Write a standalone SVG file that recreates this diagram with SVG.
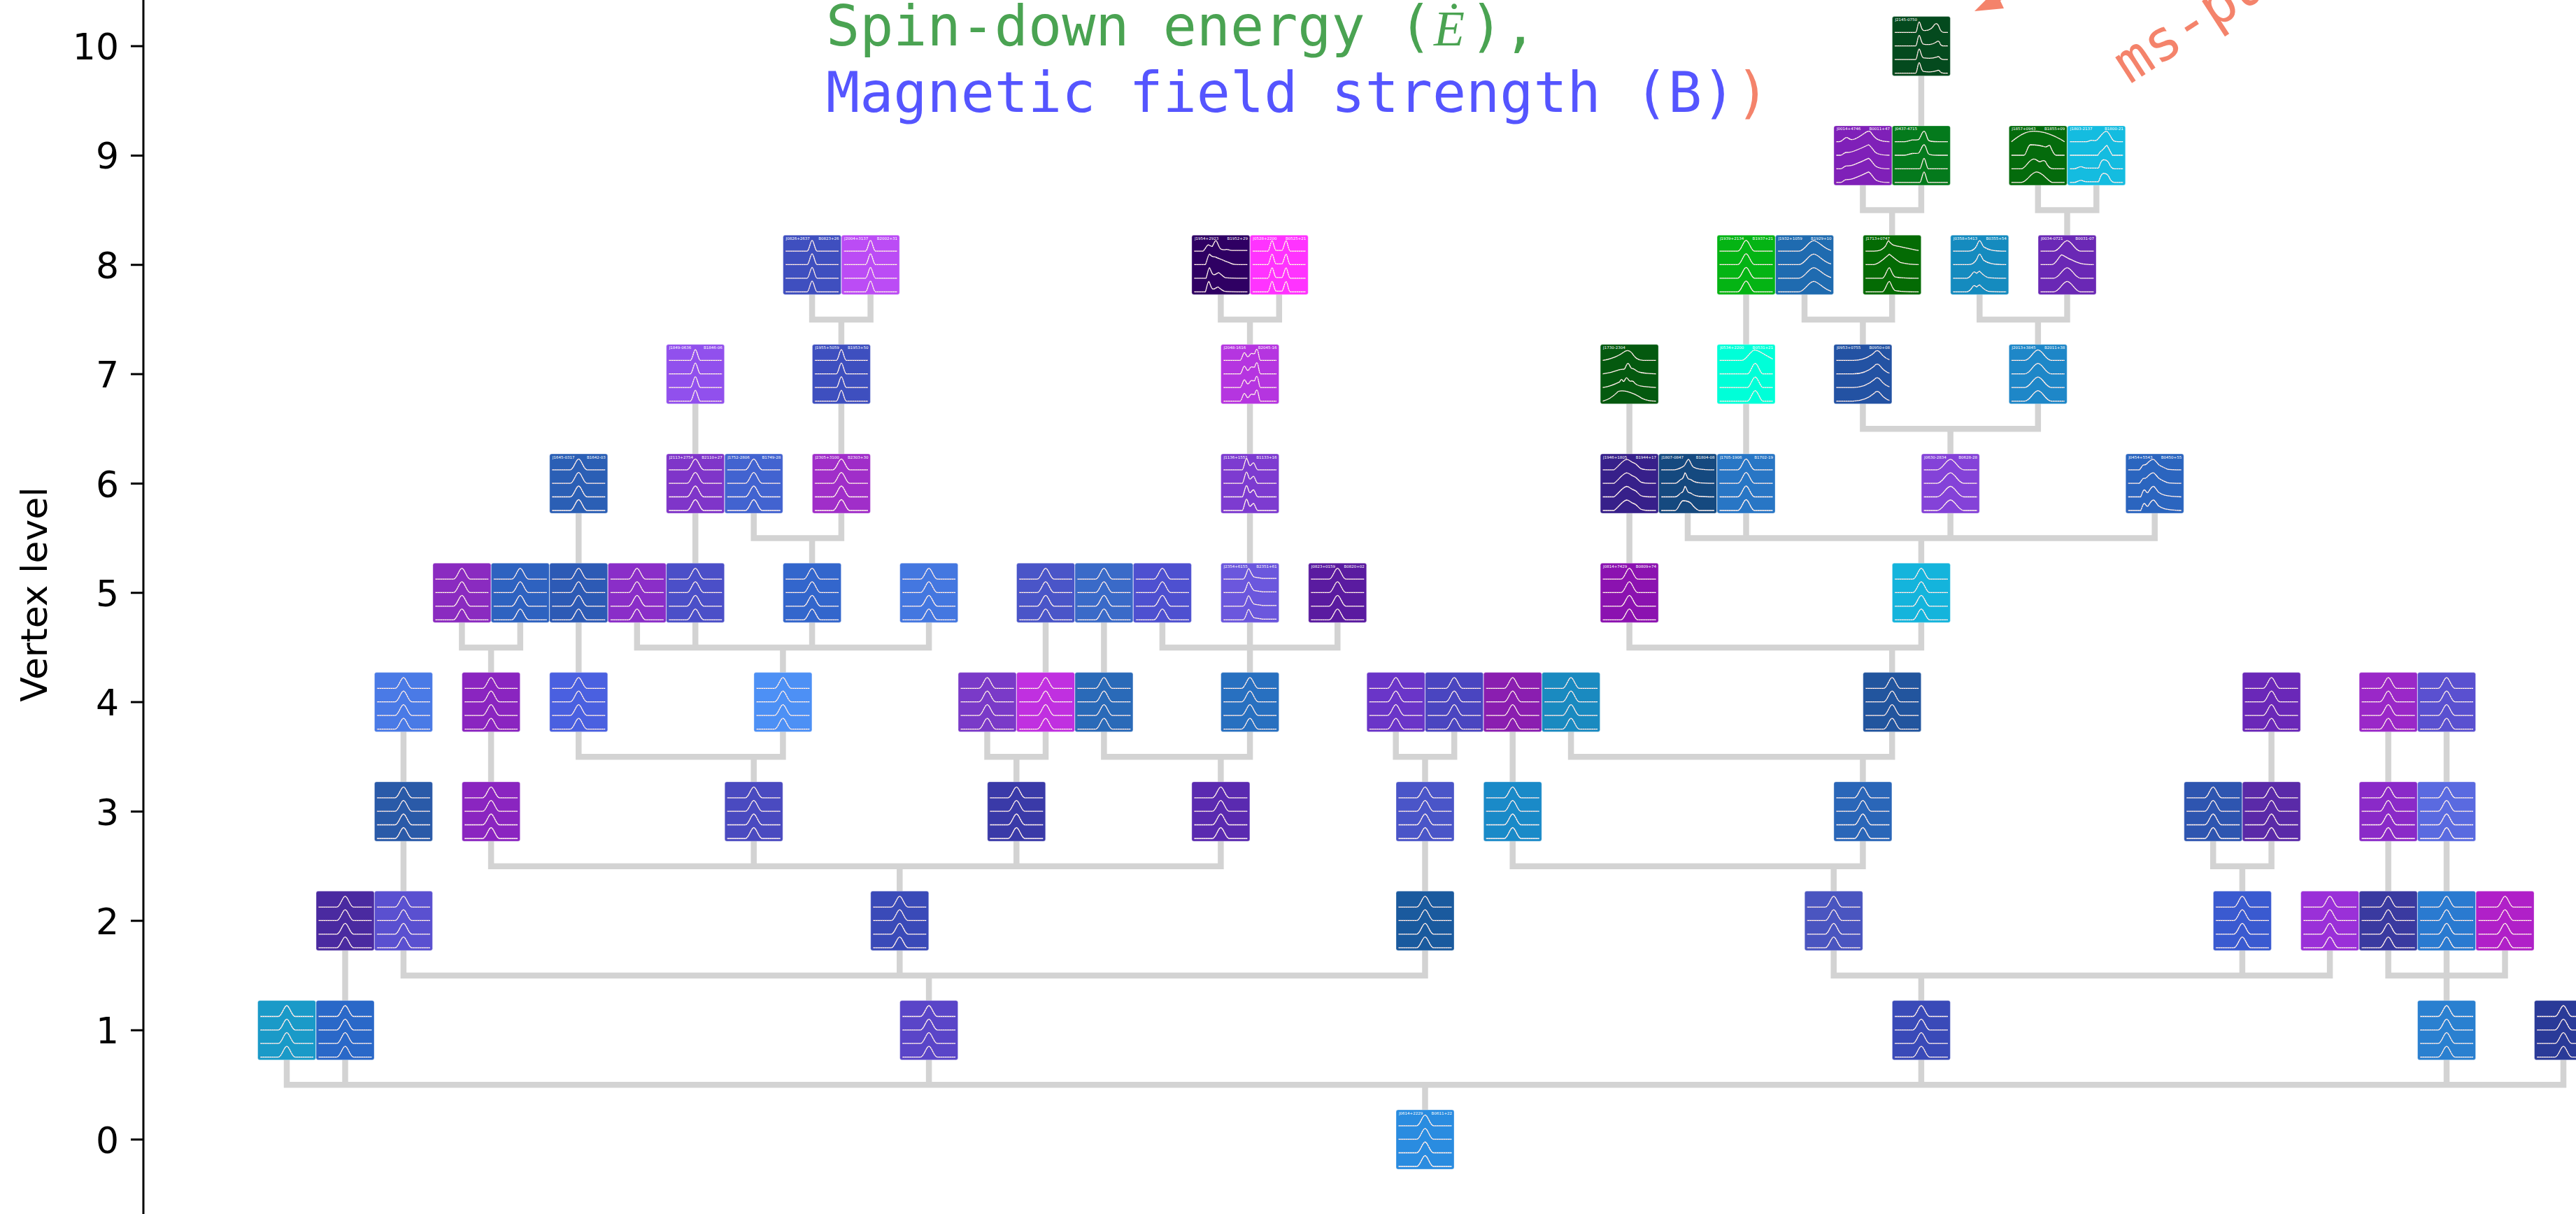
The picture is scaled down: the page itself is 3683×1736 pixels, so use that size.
<svg xmlns="http://www.w3.org/2000/svg" width="3683" height="1736" viewBox="0 0 3683 1736">
<style>
.ax{stroke:#000;stroke-width:3;fill:none}
.tk{font-family:"DejaVu Sans",sans-serif;font-size:52px;fill:#000;text-anchor:end}
.cn{fill:none;stroke:#d3d3d3;stroke-width:8.5;stroke-linecap:square}
.b{stroke:#fff;stroke-opacity:.35;stroke-width:1}
.l{font-family:"DejaVu Sans",sans-serif;font-size:5.5px;fill:#fff}
.r{font-family:"DejaVu Sans",sans-serif;font-size:5.5px;fill:#fff;text-anchor:end}
.w{fill:none;stroke:#fff;stroke-width:1.3;stroke-linejoin:round}
.d{fill:none;stroke:#f4836b;stroke-width:1.1;stroke-dasharray:.6 2.6}
.tt{font-family:"DejaVu Sans Mono",monospace;font-size:80px}
</style>
<defs>
<path id="pA" d="M0,0H26C31,0 34,-15.5 38,-15.5C42,-15.5 45,0 50,0H76"/>
<path id="pB" d="M0,0H30.8C33.8,0 35.6,-15.5 38,-15.5C40.4,-15.5 42.2,0 45.2,0H76"/>
<path id="pC" d="M0,0H18.8C26.8,0 31.6,-15 38,-15C44.4,-15 49.2,0 57.2,0H76"/>
<path id="T1" d="M0,0H30C32,0 33,-15 35,-15C37,-15 37.5,-4 41,-3C48,-2 53,-5 56,-10C58,-13.5 61,-13.5 63,-9C65,-3 67,0 70,0H76"/>
<path id="T2" d="M0,0H30C32,0 33,-15 35,-15C37,-15 37.5,-4 41,-2.5C50,-1 56,-3 60,-6C62,-7.5 64,-7 65,-3C66,-1 67,0 70,0H76"/>
<path id="T3" d="M0,0H30C32,0 33,-15 35,-15C37,-15 37.5,-4 41,-2.5C50,-1 56,-2 60,-3.5C62,-4.5 64,-4 65,-2C66,-1 67,0 70,0H76"/>
<path id="K1" d="M0,0H4C8,0 11,-5 14,-6C17,-7 18,-3 22,-3C28,-3 34,-8 40,-12C44,-15 47,-16 49,-14C52,-10 55,-5 60,-3C64,-1 68,0 76,0"/>
<path id="K2" d="M0,0H6C9,0 11,-4 14,-4C18,-4 22,-4 28,-7C36,-10 42,-13 46,-15C49,-14 52,-8 56,-4C60,-1 66,0 76,0"/>
<path id="G1" d="M0,0H14C18,0 21,-2 25,-2.5C29,-3 31,-2 34,-3C37,-5 39,-15 42,-15C45,-15 46,-3 49,-1.5C52,0 56,0 76,0"/>
<path id="G2" d="M0,0H36C38,0 40,-15 42,-15C44,-15 46,0 48,0H76"/>
<path id="N1" d="M0,0C10,-8 20,-15 32,-15C46,-15 60,-10 76,0"/>
<path id="N2" d="M0,0H18C21,0 23,-14 27,-15C35,-15 45,-13 48,-12C51,-11 53,-15 55,-14C58,-8 60,0 64,0H76"/>
<path id="N3" d="M0,0H14C20,0 25,-14 32,-14C36,-14 38,-10 41,-10C44,-12 47,-13 49,-10C52,-3 55,0 60,0H76"/>
<path id="N4" d="M0,0H14C22,0 28,-15 36,-15C44,-15 50,-4 58,0H76"/>
<path id="R1" d="M0,0H24C27,0 28,-2 31,-2C34,-2 35,-1 38,-2C42,-5 48,-15 52,-15C56,-15 58,-6 62,-2C64,0 66,0 76,0"/>
<path id="R2" d="M0,0H40C42,-4 44,-6 47,-8C50,-10 51,-14 53,-14C55,-12 58,-4 61,0H76"/>
<path id="R3" d="M0,0H6C10,0 12,-3 16,-3C19,-3 20,-1 24,-1H41C43,-5 44,-12 48,-13C52,-13 54,-12 56,-8C58,-3 60,0 64,0H76"/>
<path id="Y1" d="M0,0H12C15,0 17,-8 20,-9C22,-9 24,-6 26,-7C28,-10 29,-15 31,-15C33,-15 35,-5 38,-3C42,-1 44,-2 46,-2.5C48,-3 50,-1 54,-1H76"/>
<path id="Y2" d="M0,0H16C18,-4 20,-15 22,-15C24,-12 26,-11 30,-11C34,-9 38,-8 42,-6C46,-4 48,-4 52,-2C55,0 58,0 76,0"/>
<path id="Y3" d="M0,0H17C19,-5 20,-15 22,-15C24,-12 25,-5 28,-5C31,-5 32,-7 35,-8C38,-6 40,-3 44,-1C48,0 52,0 76,0"/>
<path id="Y4" d="M0,0H16C18,-5 19,-15 21,-15C23,-12 24,-4 27,-4C30,-4 31,-6 34,-7C37,-5 39,-2 43,-1C48,0 52,0 76,0"/>
<path id="D" d="M0,0H22C24,0 26,-15 28,-15C30,-15 31,-1 34,-1H42C44,-1 46,-15 48,-15C50,-15 51,0 54,0H76"/>
<path id="W" d="M0,0H24C26,0 28,-11 30,-11C32,-11 33,-5 35,-5C37,-5 38,-10 40,-10C42,-10 43,-9 45,-10C46,-14 47,-16 48,-16C50,-16 51,0 53,0H76"/>
<path id="H" d="M0,0H27C29,0 31,-16 33,-16C35,-16 36,-6 38,-6C40,-6 41,-10 43,-10C45,-10 46,-2 49,0H76"/>
<path id="V1" d="M0,0C12,-2 22,-6 30,-12C34,-15 38,-15 42,-10C46,-4 50,0 58,0H76"/>
<path id="V2" d="M0,0C8,-1 16,-3 24,-6C27,-7 29,-6 31,-7C33,-10 34,-15 36,-15C38,-15 39,-9 41,-8C44,-8 46,-6 49,-4C52,-2 56,-1 76,0"/>
<path id="V3" d="M0,0C8,-1 16,-4 24,-8C26,-12 27,-13 29,-9C31,-7 32,-14 34,-14C36,-14 37,-8 40,-9C42,-10 44,-9 46,-6C50,-2 56,-1 76,0"/>
<path id="V4" d="M0,0C8,-2 14,-6 20,-12C22,-15 28,-15 34,-14C42,-12 50,-8 56,-4C62,-1 68,0 76,0"/>
<path id="E" d="M0,0H16C22,-4 28,-14 34,-15C38,-15 40,-11 44,-10C48,-9 50,-5 54,-2C58,0 62,0 76,0"/>
<path id="F1" d="M0,0H18C24,0 28,-3 32,-5C35,-7 37,-15 39,-15C41,-15 43,-6 46,-4C50,-2 54,0 76,0"/>
<path id="F2" d="M0,0H20C24,0 26,-5 29,-6C31,-6 32,-9 34,-15C36,-15 37,-6 40,-6C43,-6 44,-4 46,-3C50,-1 54,0 76,0"/>
<path id="F3" d="M0,0H20C24,0 27,-13 31,-14C35,-14 40,-13 43,-10C46,-6 49,-2 54,0H76"/>
<path id="Q" d="M0,0H24C36,0 46,-4 54,-11C57,-15 60,-15 63,-11C66,-7 70,-3 76,-1"/>
<path id="C1" d="M0,0H32C38,0 44,-14 50,-15C56,-15 64,-8 76,-2"/>
<path id="C2" d="M0,0H40C44,0 47,-15 51,-15C55,-15 58,0 62,0H76"/>
<path id="M1" d="M0,0H12C20,0 26,-3 29,-8C31,-12 32,-15 33,-15C35,-12 37,-9 42,-8C52,-6 62,-3 76,-1"/>
<path id="M2" d="M0,0H12C20,-1 28,-10 34,-15C38,-12 44,-6 50,-3C58,-1 66,0 76,0"/>
<path id="M3" d="M0,0H24C28,0 31,-15 34,-15C36,-15 38,-4 42,-2C50,0 60,0 76,0"/>
<path id="S1" d="M0,0H22C28,0 32,-4 34,-8C36,-13 37,-15 38,-15C40,-15 41,-9 44,-6C50,-2 56,0 76,0"/>
<path id="S2" d="M0,0H20C26,-1 28,-9 30,-9C32,-9 33,-7 34,-7C36,-9 37,-10 38,-10C40,-8 44,-3 50,-1C56,0 60,0 76,0"/>
<path id="O2" d="M0,0H16C22,0 26,-12 30,-14C34,-13 38,-9 44,-7C50,-4 56,0 76,0"/>
<path id="P1" d="M0,0H16C18,-1 20,-7 22,-7C24,-7 25,-7 26,-8C30,-12 32,-15 36,-15C38,-15 40,-11 44,-7C48,-4 52,-3 56,-1C60,0 64,0 76,0"/>
<path id="P2" d="M0,0H18C20,-4 21,-10 23,-10C25,-10 26,-5 28,-6C30,-8 33,-15 36,-15C38,-15 40,-11 43,-7C48,-3 52,-1 76,0"/>
<path id="Z" d="M0,0H28C32,0 34,-15 36,-15C38,-15 40,-5 44,-3C48,-2 52,-2 56,-1H76"/>
<path id="X" d="M0,0H30C38,0 44,-15 51,-15C58,-15 64,-4 76,-1"/>
<g id="sA"><use href="#pA" x="-38" y="-19.7"/><use href="#pA" x="-38" y="-0.4"/><use href="#pA" x="-38" y="19"/><use href="#pA" x="-38" y="38.5"/></g>
<g id="sB"><use href="#pB" x="-38" y="-19.7"/><use href="#pB" x="-38" y="-0.4"/><use href="#pB" x="-38" y="19"/><use href="#pB" x="-38" y="38.5"/></g>
<g id="sC"><use href="#pC" x="-38" y="-19.7"/><use href="#pC" x="-38" y="-0.4"/><use href="#pC" x="-38" y="19"/><use href="#pC" x="-38" y="38.5"/></g>
<g id="sT"><use href="#T1" x="-38" y="-19.7"/><use href="#T2" x="-38" y="-0.4"/><use href="#T3" x="-38" y="19"/><use href="#T3" x="-38" y="38.5"/></g>
<g id="sK"><use href="#K1" x="-38" y="-19.7"/><use href="#K2" x="-38" y="-0.4"/><use href="#K2" x="-38" y="19"/><use href="#K2" x="-38" y="38.5"/></g>
<g id="sG"><use href="#G1" x="-38" y="-19.7"/><use href="#G1" x="-38" y="-0.4"/><use href="#G2" x="-38" y="19"/><use href="#G2" x="-38" y="38.5"/></g>
<g id="sN"><use href="#N1" x="-38" y="-19.7"/><use href="#N2" x="-38" y="-0.4"/><use href="#N3" x="-38" y="19"/><use href="#N4" x="-38" y="38.5"/></g>
<g id="sR"><use href="#R1" x="-38" y="-19.7"/><use href="#R2" x="-38" y="-0.4"/><use href="#R3" x="-38" y="19"/><use href="#R3" x="-38" y="38.5"/></g>
<g id="sY"><use href="#Y1" x="-38" y="-19.7"/><use href="#Y2" x="-38" y="-0.4"/><use href="#Y3" x="-38" y="19"/><use href="#Y4" x="-38" y="38.5"/></g>
<g id="sD"><use href="#D" x="-38" y="-19.7"/><use href="#D" x="-38" y="-0.4"/><use href="#D" x="-38" y="19"/><use href="#D" x="-38" y="38.5"/></g>
<g id="sW"><use href="#W" x="-38" y="-19.7"/><use href="#W" x="-38" y="-0.4"/><use href="#W" x="-38" y="19"/><use href="#W" x="-38" y="38.5"/></g>
<g id="sH"><use href="#H" x="-38" y="-19.7"/><use href="#H" x="-38" y="-0.4"/><use href="#H" x="-38" y="19"/><use href="#H" x="-38" y="38.5"/></g>
<g id="sV"><use href="#V1" x="-38" y="-19.7"/><use href="#V2" x="-38" y="-0.4"/><use href="#V3" x="-38" y="19"/><use href="#V4" x="-38" y="38.5"/></g>
<g id="sE"><use href="#E" x="-38" y="-19.7"/><use href="#E" x="-38" y="-0.4"/><use href="#E" x="-38" y="19"/><use href="#E" x="-38" y="38.5"/></g>
<g id="sF"><use href="#F1" x="-38" y="-19.7"/><use href="#F2" x="-38" y="-0.4"/><use href="#F2" x="-38" y="19"/><use href="#F3" x="-38" y="38.5"/></g>
<g id="sQ"><use href="#Q" x="-38" y="-19.7"/><use href="#Q" x="-38" y="-0.4"/><use href="#Q" x="-38" y="19"/><use href="#Q" x="-38" y="38.5"/></g>
<g id="sCr"><use href="#C1" x="-38" y="-19.7"/><use href="#C2" x="-38" y="-0.4"/><use href="#C2" x="-38" y="19"/><use href="#C2" x="-38" y="38.5"/></g>
<g id="sM"><use href="#M1" x="-38" y="-19.7"/><use href="#M2" x="-38" y="-0.4"/><use href="#M3" x="-38" y="19"/><use href="#M3" x="-38" y="38.5"/></g>
<g id="sS"><use href="#S1" x="-38" y="-19.7"/><use href="#S1" x="-38" y="-0.4"/><use href="#S2" x="-38" y="19"/><use href="#S2" x="-38" y="38.5"/></g>
<g id="sO"><use href="#pC" x="-38" y="-19.7"/><use href="#O2" x="-38" y="-0.4"/><use href="#pC" x="-38" y="19"/><use href="#pC" x="-38" y="38.5"/></g>
<g id="sP"><use href="#P1" x="-38" y="-19.7"/><use href="#P1" x="-38" y="-0.4"/><use href="#P2" x="-38" y="19"/><use href="#P2" x="-38" y="38.5"/></g>
<g id="sZ"><use href="#Z" x="-38" y="-19.7"/><use href="#Z" x="-38" y="-0.4"/><use href="#Z" x="-38" y="19"/><use href="#Z" x="-38" y="38.5"/></g>
<g id="sX"><use href="#X" x="-38" y="-19.7"/><use href="#X" x="-38" y="-0.4"/><use href="#X" x="-38" y="19"/><use href="#X" x="-38" y="38.5"/></g>
</defs>
<rect width="3683" height="1736" fill="#fff"/>
<g id="axis">
<path class="ax" d="M205,0V1736M187,1629.5H205M187,1473.2H205M187,1316.8H205M187,1160.5H205M187,1004.1H205M187,847.8H205M187,691.5H205M187,535.1H205M187,378.8H205M187,222.4H205M187,66.1H205"/>
<text class="tk" x="170" y="1648.5">0</text><text class="tk" x="170" y="1492.2">1</text><text class="tk" x="170" y="1335.8">2</text><text class="tk" x="170" y="1179.5">3</text><text class="tk" x="170" y="1023.1">4</text><text class="tk" x="170" y="866.8">5</text><text class="tk" x="170" y="710.5">6</text><text class="tk" x="170" y="554.1">7</text><text class="tk" x="170" y="397.8">8</text><text class="tk" x="170" y="241.4">9</text><text class="tk" x="170" y="85.1">10</text>
<text x="67" y="850" transform="rotate(-90 67 850)" text-anchor="middle" font-family="DejaVu Sans, sans-serif" font-size="52">Vertex level</text>
</g>
<g id="title">
<text class="tt" x="1181" y="65" fill="#4aa352">Spin-down energy (</text>
<text x="2050" y="65" font-family="Liberation Serif, serif" font-style="italic" font-size="72" fill="#4aa352">Ė</text>
<text class="tt" x="2101" y="65" fill="#4aa352">),</text>
<text class="tt" x="1181" y="160" fill="#5555ff">Magnetic field strength (B)<tspan fill="#f4836b">)</tspan></text>
<text class="tt" x="3044.5" y="121" font-size="72" fill="#f4836b" transform="rotate(-33 3044.5 121)">ms-pu</text>
<polygon points="2823,16 2865,12 2853,-14" fill="#f4836b"/>
<path d="M2858,-1L2920,-30" stroke="#f4836b" stroke-width="5" fill="none"/>
</g>
<g id="connectors" class="cn">
<path d="M410,1473.2V1551.3M493.5,1473.2V1551.3M1328.1,1473.2V1551.3M2746.9,1473.2V1551.3M3498,1473.2V1551.3M3665,1473.2V1551.3M410,1551.3H3665M2037.5,1551.3V1629.5"/>
<path d="M493.5,1316.8V1473.2"/>
<path d="M576.9,1316.8V1395M1286.3,1316.8V1395M2037.5,1316.8V1395M576.9,1395H2037.5M1328.1,1395V1473.2"/>
<path d="M2621.7,1316.8V1395M3205.9,1316.8V1395M3331.1,1316.8V1395M2621.7,1395H3331.1M2746.9,1395V1473.2"/>
<path d="M3414.6,1316.8V1395M3498,1316.8V1395M3581.5,1316.8V1395M3414.6,1395H3581.5M3498,1395V1473.2"/>
<path d="M576.9,1160.5V1316.8"/>
<path d="M702.1,1160.5V1238.7M1077.7,1160.5V1238.7M1453.3,1160.5V1238.7M1745.4,1160.5V1238.7M702.1,1238.7H1745.4M1286.3,1238.7V1316.8"/>
<path d="M2037.5,1160.5V1316.8"/>
<path d="M2162.7,1160.5V1238.7M2663.4,1160.5V1238.7M2162.7,1238.7H2663.4M2621.7,1238.7V1316.8"/>
<path d="M3164.2,1160.5V1238.7M3247.6,1160.5V1238.7M3164.2,1238.7H3247.6M3205.9,1238.7V1316.8"/>
<path d="M3414.6,1160.5V1316.8M3498,1160.5V1316.8"/>
<path d="M576.9,1004.1V1160.5M702.1,1004.1V1160.5"/>
<path d="M827.3,1004.1V1082.3M1119.4,1004.1V1082.3M827.3,1082.3H1119.4M1077.7,1082.3V1160.5"/>
<path d="M1411.5,1004.1V1082.3M1495,1004.1V1082.3M1411.5,1082.3H1495M1453.3,1082.3V1160.5"/>
<path d="M1578.4,1004.1V1082.3M1787.1,1004.1V1082.3M1578.4,1082.3H1787.1M1745.4,1082.3V1160.5"/>
<path d="M1995.7,1004.1V1082.3M2079.2,1004.1V1082.3M1995.7,1082.3H2079.2M2037.5,1082.3V1160.5"/>
<path d="M2162.7,1004.1V1160.5"/>
<path d="M2246.1,1004.1V1082.3M2705.2,1004.1V1082.3M2246.1,1082.3H2705.2M2663.4,1082.3V1160.5"/>
<path d="M3247.6,1004.1V1160.5M3414.6,1004.1V1160.5M3498,1004.1V1160.5"/>
<path d="M660.4,847.8V926M743.8,847.8V926M660.4,926H743.8M702.1,926V1004.1"/>
<path d="M827.3,847.8V1004.1"/>
<path d="M910.8,847.8V926M994.2,847.8V926M1161.1,847.8V926M1328.1,847.8V926M910.8,926H1328.1M1119.4,926V1004.1"/>
<path d="M1495,847.8V1004.1M1578.4,847.8V1004.1"/>
<path d="M1661.9,847.8V926M1787.1,847.8V926M1912.3,847.8V926M1661.9,926H1912.3M1787.1,926V1004.1"/>
<path d="M2329.6,847.8V926M2746.9,847.8V926M2329.6,926H2746.9M2705.2,926V1004.1"/>
<path d="M827.3,691.5V847.8M994.2,691.5V847.8"/>
<path d="M1077.7,691.5V769.6M1202.9,691.5V769.6M1077.7,769.6H1202.9M1161.1,769.6V847.8"/>
<path d="M1787.1,691.5V847.8M2329.6,691.5V847.8"/>
<path d="M2413,691.5V769.6M2496.5,691.5V769.6M2788.6,691.5V769.6M3080.7,691.5V769.6M2413,769.6H3080.7M2746.9,769.6V847.8"/>
<path d="M994.2,535.1V691.5M1202.9,535.1V691.5M1787.1,535.1V691.5M2329.6,535.1V691.5M2496.5,535.1V691.5"/>
<path d="M2663.4,535.1V613.3M2913.8,535.1V613.3M2663.4,613.3H2913.8M2788.6,613.3V691.5"/>
<path d="M1161.1,378.8V457M1244.6,378.8V457M1161.1,457H1244.6M1202.9,457V535.1"/>
<path d="M1745.4,378.8V457M1828.8,378.8V457M1745.4,457H1828.8M1787.1,457V535.1"/>
<path d="M2496.5,378.8V535.1"/>
<path d="M2580,378.8V457M2705.2,378.8V457M2580,457H2705.2M2663.4,457V535.1"/>
<path d="M2830.3,378.8V457M2955.5,378.8V457M2830.3,457H2955.5M2913.8,457V535.1"/>
<path d="M2663.4,222.4V300.6M2746.9,222.4V300.6M2663.4,300.6H2746.9M2705.2,300.6V378.8"/>
<path d="M2913.8,222.4V300.6M2997.3,222.4V300.6M2913.8,300.6H2997.3M2955.5,300.6V378.8"/>
<path d="M2746.9,66.1V222.4"/>
</g>
<g id="nodes">
<g id="n_J2145m0750" transform="translate(2746.9,66.1)"><rect class="b" x="-41.5" y="-42.5" width="83" height="85" rx="3" fill="#044a1e"/><text class="l" x="-37.5" y="-36">J2145-0750</text><use href="#sT" class="w"/><use href="#sT" class="d"/></g>
<g id="n_J0014p4746" transform="translate(2663.4,222.4)"><rect class="b" x="-41.5" y="-42.5" width="83" height="85" rx="3" fill="#7f20b8"/><text class="l" x="-37.5" y="-36">J0014+4746</text><text class="r" x="38.5" y="-36">B0011+47</text><use href="#sK" class="w"/><use href="#sK" class="d"/></g>
<g id="n_J0437m4715" transform="translate(2746.9,222.4)"><rect class="b" x="-41.5" y="-42.5" width="83" height="85" rx="3" fill="#047a1c"/><text class="l" x="-37.5" y="-36">J0437-4715</text><use href="#sG" class="w"/><use href="#sG" class="d"/></g>
<g id="n_J1857p0943" transform="translate(2913.8,222.4)"><rect class="b" x="-41.5" y="-42.5" width="83" height="85" rx="3" fill="#046b0c"/><text class="l" x="-37.5" y="-36">J1857+0943</text><text class="r" x="38.5" y="-36">B1855+09</text><use href="#sN" class="w"/><use href="#sN" class="d"/></g>
<g id="n_J1803m2137" transform="translate(2997.3,222.4)"><rect class="b" x="-41.5" y="-42.5" width="83" height="85" rx="3" fill="#14bce0"/><text class="l" x="-37.5" y="-36">J1803-2137</text><text class="r" x="38.5" y="-36">B1800-21</text><use href="#sR" class="w"/><use href="#sR" class="d"/></g>
<g id="n_J0826p2637" transform="translate(1161.1,378.8)"><rect class="b" x="-41.5" y="-42.5" width="83" height="85" rx="3" fill="#3f4fbf"/><text class="l" x="-37.5" y="-36">J0826+2637</text><text class="r" x="38.5" y="-36">B0823+26</text><use href="#sB" class="w"/><use href="#sB" class="d"/></g>
<g id="n_J2004p3137" transform="translate(1244.6,378.8)"><rect class="b" x="-41.5" y="-42.5" width="83" height="85" rx="3" fill="#bb4cf5"/><text class="l" x="-37.5" y="-36">J2004+3137</text><text class="r" x="38.5" y="-36">B2002+31</text><use href="#sB" class="w"/><use href="#sB" class="d"/></g>
<g id="n_J1954p2923" transform="translate(1745.4,378.8)"><rect class="b" x="-41.5" y="-42.5" width="83" height="85" rx="3" fill="#2f0063"/><text class="l" x="-37.5" y="-36">J1954+2923</text><text class="r" x="38.5" y="-36">B1952+29</text><use href="#sY" class="w"/><use href="#sY" class="d"/></g>
<g id="n_J0528p2200" transform="translate(1828.8,378.8)"><rect class="b" x="-41.5" y="-42.5" width="83" height="85" rx="3" fill="#ff33ff"/><text class="l" x="-37.5" y="-36">J0528+2200</text><text class="r" x="38.5" y="-36">B0525+21</text><use href="#sD" class="w"/><use href="#sD" class="d"/></g>
<g id="n_J1939p2134" transform="translate(2496.5,378.8)"><rect class="b" x="-41.5" y="-42.5" width="83" height="85" rx="3" fill="#04b414"/><text class="l" x="-37.5" y="-36">J1939+2134</text><text class="r" x="38.5" y="-36">B1937+21</text><use href="#sA" class="w"/><use href="#sA" class="d"/></g>
<g id="n_J1932p1059" transform="translate(2580,378.8)"><rect class="b" x="-41.5" y="-42.5" width="83" height="85" rx="3" fill="#1f6bb0"/><text class="l" x="-37.5" y="-36">J1932+1059</text><text class="r" x="38.5" y="-36">B1929+10</text><use href="#sX" class="w"/><use href="#sX" class="d"/></g>
<g id="n_J1713p0747" transform="translate(2705.2,378.8)"><rect class="b" x="-41.5" y="-42.5" width="83" height="85" rx="3" fill="#046b04"/><text class="l" x="-37.5" y="-36">J1713+0747</text><use href="#sM" class="w"/><use href="#sM" class="d"/></g>
<g id="n_J0358p5413" transform="translate(2830.3,378.8)"><rect class="b" x="-41.5" y="-42.5" width="83" height="85" rx="3" fill="#158bbf"/><text class="l" x="-37.5" y="-36">J0358+5413</text><text class="r" x="38.5" y="-36">B0355+54</text><use href="#sS" class="w"/><use href="#sS" class="d"/></g>
<g id="n_J0034m0721" transform="translate(2955.5,378.8)"><rect class="b" x="-41.5" y="-42.5" width="83" height="85" rx="3" fill="#6a28b5"/><text class="l" x="-37.5" y="-36">J0034-0721</text><text class="r" x="38.5" y="-36">B0031-07</text><use href="#sO" class="w"/><use href="#sO" class="d"/></g>
<g id="n_J1849m0636" transform="translate(994.2,535.1)"><rect class="b" x="-41.5" y="-42.5" width="83" height="85" rx="3" fill="#9150ed"/><text class="l" x="-37.5" y="-36">J1849-0636</text><text class="r" x="38.5" y="-36">B1846-06</text><use href="#sB" class="w"/><use href="#sB" class="d"/></g>
<g id="n_J1955p5059" transform="translate(1202.9,535.1)"><rect class="b" x="-41.5" y="-42.5" width="83" height="85" rx="3" fill="#3e4fbf"/><text class="l" x="-37.5" y="-36">J1955+5059</text><text class="r" x="38.5" y="-36">B1953+50</text><use href="#sB" class="w"/><use href="#sB" class="d"/></g>
<g id="n_J2048m1616" transform="translate(1787.1,535.1)"><rect class="b" x="-41.5" y="-42.5" width="83" height="85" rx="3" fill="#b535e0"/><text class="l" x="-37.5" y="-36">J2048-1616</text><text class="r" x="38.5" y="-36">B2045-16</text><use href="#sW" class="w"/><use href="#sW" class="d"/></g>
<g id="n_J1730m2304" transform="translate(2329.6,535.1)"><rect class="b" x="-41.5" y="-42.5" width="83" height="85" rx="3" fill="#04590f"/><text class="l" x="-37.5" y="-36">J1730-2304</text><use href="#sV" class="w"/><use href="#sV" class="d"/></g>
<g id="n_J0534p2200" transform="translate(2496.5,535.1)"><rect class="b" x="-41.5" y="-42.5" width="83" height="85" rx="3" fill="#00ffd8"/><text class="l" x="-37.5" y="-36">J0534+2200</text><text class="r" x="38.5" y="-36">B0531+21</text><use href="#sCr" class="w"/><use href="#sCr" class="d"/></g>
<g id="n_J0953p0755" transform="translate(2663.4,535.1)"><rect class="b" x="-41.5" y="-42.5" width="83" height="85" rx="3" fill="#2352a3"/><text class="l" x="-37.5" y="-36">J0953+0755</text><text class="r" x="38.5" y="-36">B0950+08</text><use href="#sQ" class="w"/><use href="#sQ" class="d"/></g>
<g id="n_J2013p3845" transform="translate(2913.8,535.1)"><rect class="b" x="-41.5" y="-42.5" width="83" height="85" rx="3" fill="#1e87c8"/><text class="l" x="-37.5" y="-36">J2013+3845</text><text class="r" x="38.5" y="-36">B2011+38</text><use href="#sC" class="w"/><use href="#sC" class="d"/></g>
<g id="n_J1645m0317" transform="translate(827.3,691.5)"><rect class="b" x="-41.5" y="-42.5" width="83" height="85" rx="3" fill="#2b5fb5"/><text class="l" x="-37.5" y="-36">J1645-0317</text><text class="r" x="38.5" y="-36">B1642-03</text><use href="#sA" class="w"/><use href="#sA" class="d"/></g>
<g id="n_J2113p2754" transform="translate(994.2,691.5)"><rect class="b" x="-41.5" y="-42.5" width="83" height="85" rx="3" fill="#7f35c9"/><text class="l" x="-37.5" y="-36">J2113+2754</text><text class="r" x="38.5" y="-36">B2110+27</text><use href="#sA" class="w"/><use href="#sA" class="d"/></g>
<g id="n_J1752m2806" transform="translate(1077.7,691.5)"><rect class="b" x="-41.5" y="-42.5" width="83" height="85" rx="3" fill="#4263d0"/><text class="l" x="-37.5" y="-36">J1752-2806</text><text class="r" x="38.5" y="-36">B1749-28</text><use href="#sA" class="w"/><use href="#sA" class="d"/></g>
<g id="n_J2305p3100" transform="translate(1202.9,691.5)"><rect class="b" x="-41.5" y="-42.5" width="83" height="85" rx="3" fill="#a02ec9"/><text class="l" x="-37.5" y="-36">J2305+3100</text><text class="r" x="38.5" y="-36">B2303+30</text><use href="#sA" class="w"/><use href="#sA" class="d"/></g>
<g id="n_J1136p1551" transform="translate(1787.1,691.5)"><rect class="b" x="-41.5" y="-42.5" width="83" height="85" rx="3" fill="#7d3bd0"/><text class="l" x="-37.5" y="-36">J1136+1551</text><text class="r" x="38.5" y="-36">B1133+16</text><use href="#sH" class="w"/><use href="#sH" class="d"/></g>
<g id="n_J1946p1805" transform="translate(2329.6,691.5)"><rect class="b" x="-41.5" y="-42.5" width="83" height="85" rx="3" fill="#37208a"/><text class="l" x="-37.5" y="-36">J1946+1805</text><text class="r" x="38.5" y="-36">B1944+17</text><use href="#sE" class="w"/><use href="#sE" class="d"/></g>
<g id="n_J1807m0847" transform="translate(2413,691.5)"><rect class="b" x="-41.5" y="-42.5" width="83" height="85" rx="3" fill="#15497f"/><text class="l" x="-37.5" y="-36">J1807-0847</text><text class="r" x="38.5" y="-36">B1804-08</text><use href="#sF" class="w"/><use href="#sF" class="d"/></g>
<g id="n_J1705m1906" transform="translate(2496.5,691.5)"><rect class="b" x="-41.5" y="-42.5" width="83" height="85" rx="3" fill="#2876c5"/><text class="l" x="-37.5" y="-36">J1705-1906</text><text class="r" x="38.5" y="-36">B1702-19</text><use href="#sA" class="w"/><use href="#sA" class="d"/></g>
<g id="n_J0630m2834" transform="translate(2788.6,691.5)"><rect class="b" x="-41.5" y="-42.5" width="83" height="85" rx="3" fill="#8442d8"/><text class="l" x="-37.5" y="-36">J0630-2834</text><text class="r" x="38.5" y="-36">B0628-28</text><use href="#sC" class="w"/><use href="#sC" class="d"/></g>
<g id="n_J0454p5543" transform="translate(3080.7,691.5)"><rect class="b" x="-41.5" y="-42.5" width="83" height="85" rx="3" fill="#2b65bf"/><text class="l" x="-37.5" y="-36">J0454+5543</text><text class="r" x="38.5" y="-36">B0450+55</text><use href="#sP" class="w"/><use href="#sP" class="d"/></g>
<g id="n_L5_m4" transform="translate(660.4,847.8)"><rect class="b" x="-41.5" y="-42.5" width="83" height="85" rx="3" fill="#8a2bc0"/><use href="#sA" class="w"/><use href="#sA" class="d"/></g>
<g id="n_L5_m2" transform="translate(743.8,847.8)"><rect class="b" x="-41.5" y="-42.5" width="83" height="85" rx="3" fill="#2e62c0"/><use href="#sA" class="w"/><use href="#sA" class="d"/></g>
<g id="n_L5_0" transform="translate(827.3,847.8)"><rect class="b" x="-41.5" y="-42.5" width="83" height="85" rx="3" fill="#2d5ab5"/><use href="#sA" class="w"/><use href="#sA" class="d"/></g>
<g id="n_L5_2" transform="translate(910.8,847.8)"><rect class="b" x="-41.5" y="-42.5" width="83" height="85" rx="3" fill="#8a2ec8"/><use href="#sA" class="w"/><use href="#sA" class="d"/></g>
<g id="n_L5_4" transform="translate(994.2,847.8)"><rect class="b" x="-41.5" y="-42.5" width="83" height="85" rx="3" fill="#4b4fc8"/><use href="#sA" class="w"/><use href="#sA" class="d"/></g>
<g id="n_L5_8" transform="translate(1161.1,847.8)"><rect class="b" x="-41.5" y="-42.5" width="83" height="85" rx="3" fill="#3366cc"/><use href="#sA" class="w"/><use href="#sA" class="d"/></g>
<g id="n_L5_12" transform="translate(1328.1,847.8)"><rect class="b" x="-41.5" y="-42.5" width="83" height="85" rx="3" fill="#4477e0"/><use href="#sA" class="w"/><use href="#sA" class="d"/></g>
<g id="n_L5_16" transform="translate(1495,847.8)"><rect class="b" x="-41.5" y="-42.5" width="83" height="85" rx="3" fill="#4a55c8"/><use href="#sA" class="w"/><use href="#sA" class="d"/></g>
<g id="n_L5_18" transform="translate(1578.4,847.8)"><rect class="b" x="-41.5" y="-42.5" width="83" height="85" rx="3" fill="#3a6ac8"/><use href="#sA" class="w"/><use href="#sA" class="d"/></g>
<g id="n_L5_20" transform="translate(1661.9,847.8)"><rect class="b" x="-41.5" y="-42.5" width="83" height="85" rx="3" fill="#4e50d0"/><use href="#sA" class="w"/><use href="#sA" class="d"/></g>
<g id="n_J2354p6155" transform="translate(1787.1,847.8)"><rect class="b" x="-41.5" y="-42.5" width="83" height="85" rx="3" fill="#6b57dd"/><text class="l" x="-37.5" y="-36">J2354+6155</text><text class="r" x="38.5" y="-36">B2351+61</text><use href="#sZ" class="w"/><use href="#sZ" class="d"/></g>
<g id="n_J0823p0159" transform="translate(1912.3,847.8)"><rect class="b" x="-41.5" y="-42.5" width="83" height="85" rx="3" fill="#5a1ba0"/><text class="l" x="-37.5" y="-36">J0823+0159</text><text class="r" x="38.5" y="-36">B0820+02</text><use href="#sA" class="w"/><use href="#sA" class="d"/></g>
<g id="n_J0814p7429" transform="translate(2329.6,847.8)"><rect class="b" x="-41.5" y="-42.5" width="83" height="85" rx="3" fill="#8b12b0"/><text class="l" x="-37.5" y="-36">J0814+7429</text><text class="r" x="38.5" y="-36">B0809+74</text><use href="#sA" class="w"/><use href="#sA" class="d"/></g>
<g id="n_L5_46" transform="translate(2746.9,847.8)"><rect class="b" x="-41.5" y="-42.5" width="83" height="85" rx="3" fill="#14b4dc"/><use href="#sA" class="w"/><use href="#sA" class="d"/></g>
<g id="n_L4_m6" transform="translate(576.9,1004.1)"><rect class="b" x="-41.5" y="-42.5" width="83" height="85" rx="3" fill="#4a7ae6"/><use href="#sA" class="w"/><use href="#sA" class="d"/></g>
<g id="n_L4_m3" transform="translate(702.1,1004.1)"><rect class="b" x="-41.5" y="-42.5" width="83" height="85" rx="3" fill="#8a25c0"/><use href="#sA" class="w"/><use href="#sA" class="d"/></g>
<g id="n_L4_0" transform="translate(827.3,1004.1)"><rect class="b" x="-41.5" y="-42.5" width="83" height="85" rx="3" fill="#4a60e0"/><use href="#sA" class="w"/><use href="#sA" class="d"/></g>
<g id="n_L4_7" transform="translate(1119.4,1004.1)"><rect class="b" x="-41.5" y="-42.5" width="83" height="85" rx="3" fill="#4d90f5"/><use href="#sA" class="w"/><use href="#sA" class="d"/></g>
<g id="n_L4_14" transform="translate(1411.5,1004.1)"><rect class="b" x="-41.5" y="-42.5" width="83" height="85" rx="3" fill="#7a3ac8"/><use href="#sA" class="w"/><use href="#sA" class="d"/></g>
<g id="n_L4_16" transform="translate(1495,1004.1)"><rect class="b" x="-41.5" y="-42.5" width="83" height="85" rx="3" fill="#c030e0"/><use href="#sA" class="w"/><use href="#sA" class="d"/></g>
<g id="n_L4_18" transform="translate(1578.4,1004.1)"><rect class="b" x="-41.5" y="-42.5" width="83" height="85" rx="3" fill="#2a6ab8"/><use href="#sA" class="w"/><use href="#sA" class="d"/></g>
<g id="n_L4_23" transform="translate(1787.1,1004.1)"><rect class="b" x="-41.5" y="-42.5" width="83" height="85" rx="3" fill="#2870c0"/><use href="#sA" class="w"/><use href="#sA" class="d"/></g>
<g id="n_L4_28" transform="translate(1995.7,1004.1)"><rect class="b" x="-41.5" y="-42.5" width="83" height="85" rx="3" fill="#6a35c8"/><use href="#sA" class="w"/><use href="#sA" class="d"/></g>
<g id="n_L4_30" transform="translate(2079.2,1004.1)"><rect class="b" x="-41.5" y="-42.5" width="83" height="85" rx="3" fill="#4a45c0"/><use href="#sA" class="w"/><use href="#sA" class="d"/></g>
<g id="n_L4_32" transform="translate(2162.7,1004.1)"><rect class="b" x="-41.5" y="-42.5" width="83" height="85" rx="3" fill="#8a1eb0"/><use href="#sA" class="w"/><use href="#sA" class="d"/></g>
<g id="n_L4_34" transform="translate(2246.1,1004.1)"><rect class="b" x="-41.5" y="-42.5" width="83" height="85" rx="3" fill="#1a8ac0"/><use href="#sA" class="w"/><use href="#sA" class="d"/></g>
<g id="n_L4_45" transform="translate(2705.2,1004.1)"><rect class="b" x="-41.5" y="-42.5" width="83" height="85" rx="3" fill="#22559e"/><use href="#sA" class="w"/><use href="#sA" class="d"/></g>
<g id="n_L4_58" transform="translate(3247.6,1004.1)"><rect class="b" x="-41.5" y="-42.5" width="83" height="85" rx="3" fill="#6a28b8"/><use href="#sA" class="w"/><use href="#sA" class="d"/></g>
<g id="n_L4_62" transform="translate(3414.6,1004.1)"><rect class="b" x="-41.5" y="-42.5" width="83" height="85" rx="3" fill="#9a28c8"/><use href="#sA" class="w"/><use href="#sA" class="d"/></g>
<g id="n_L4_64" transform="translate(3498,1004.1)"><rect class="b" x="-41.5" y="-42.5" width="83" height="85" rx="3" fill="#5a50d0"/><use href="#sA" class="w"/><use href="#sA" class="d"/></g>
<g id="n_L3_m6" transform="translate(576.9,1160.5)"><rect class="b" x="-41.5" y="-42.5" width="83" height="85" rx="3" fill="#2a5aa8"/><use href="#sA" class="w"/><use href="#sA" class="d"/></g>
<g id="n_L3_m3" transform="translate(702.1,1160.5)"><rect class="b" x="-41.5" y="-42.5" width="83" height="85" rx="3" fill="#8a25c0"/><use href="#sA" class="w"/><use href="#sA" class="d"/></g>
<g id="n_L3_6" transform="translate(1077.7,1160.5)"><rect class="b" x="-41.5" y="-42.5" width="83" height="85" rx="3" fill="#4a4ac0"/><use href="#sA" class="w"/><use href="#sA" class="d"/></g>
<g id="n_L3_15" transform="translate(1453.3,1160.5)"><rect class="b" x="-41.5" y="-42.5" width="83" height="85" rx="3" fill="#3a3aa8"/><use href="#sA" class="w"/><use href="#sA" class="d"/></g>
<g id="n_L3_22" transform="translate(1745.4,1160.5)"><rect class="b" x="-41.5" y="-42.5" width="83" height="85" rx="3" fill="#5a2ab0"/><use href="#sA" class="w"/><use href="#sA" class="d"/></g>
<g id="n_L3_29" transform="translate(2037.5,1160.5)"><rect class="b" x="-41.5" y="-42.5" width="83" height="85" rx="3" fill="#4a55c8"/><use href="#sA" class="w"/><use href="#sA" class="d"/></g>
<g id="n_L3_32" transform="translate(2162.7,1160.5)"><rect class="b" x="-41.5" y="-42.5" width="83" height="85" rx="3" fill="#1a8ac8"/><use href="#sA" class="w"/><use href="#sA" class="d"/></g>
<g id="n_L3_44" transform="translate(2663.4,1160.5)"><rect class="b" x="-41.5" y="-42.5" width="83" height="85" rx="3" fill="#2a66b8"/><use href="#sA" class="w"/><use href="#sA" class="d"/></g>
<g id="n_L3_56" transform="translate(3164.2,1160.5)"><rect class="b" x="-41.5" y="-42.5" width="83" height="85" rx="3" fill="#2e55b0"/><use href="#sA" class="w"/><use href="#sA" class="d"/></g>
<g id="n_L3_58" transform="translate(3247.6,1160.5)"><rect class="b" x="-41.5" y="-42.5" width="83" height="85" rx="3" fill="#5a2aa8"/><use href="#sA" class="w"/><use href="#sA" class="d"/></g>
<g id="n_L3_62" transform="translate(3414.6,1160.5)"><rect class="b" x="-41.5" y="-42.5" width="83" height="85" rx="3" fill="#8a2ac8"/><use href="#sA" class="w"/><use href="#sA" class="d"/></g>
<g id="n_L3_64" transform="translate(3498,1160.5)"><rect class="b" x="-41.5" y="-42.5" width="83" height="85" rx="3" fill="#5a6ae0"/><use href="#sA" class="w"/><use href="#sA" class="d"/></g>
<g id="n_L2_m8" transform="translate(493.5,1316.8)"><rect class="b" x="-41.5" y="-42.5" width="83" height="85" rx="3" fill="#4a2aa0"/><use href="#sA" class="w"/><use href="#sA" class="d"/></g>
<g id="n_L2_m6" transform="translate(576.9,1316.8)"><rect class="b" x="-41.5" y="-42.5" width="83" height="85" rx="3" fill="#5a50d0"/><use href="#sA" class="w"/><use href="#sA" class="d"/></g>
<g id="n_L2_11" transform="translate(1286.3,1316.8)"><rect class="b" x="-41.5" y="-42.5" width="83" height="85" rx="3" fill="#3a4ab8"/><use href="#sA" class="w"/><use href="#sA" class="d"/></g>
<g id="n_L2_29" transform="translate(2037.5,1316.8)"><rect class="b" x="-41.5" y="-42.5" width="83" height="85" rx="3" fill="#1a5a9e"/><use href="#sA" class="w"/><use href="#sA" class="d"/></g>
<g id="n_L2_43" transform="translate(2621.7,1316.8)"><rect class="b" x="-41.5" y="-42.5" width="83" height="85" rx="3" fill="#4a55c0"/><use href="#sA" class="w"/><use href="#sA" class="d"/></g>
<g id="n_L2_57" transform="translate(3205.9,1316.8)"><rect class="b" x="-41.5" y="-42.5" width="83" height="85" rx="3" fill="#3a5ad0"/><use href="#sA" class="w"/><use href="#sA" class="d"/></g>
<g id="n_L2_60" transform="translate(3331.1,1316.8)"><rect class="b" x="-41.5" y="-42.5" width="83" height="85" rx="3" fill="#9a30d8"/><use href="#sA" class="w"/><use href="#sA" class="d"/></g>
<g id="n_L2_62" transform="translate(3414.6,1316.8)"><rect class="b" x="-41.5" y="-42.5" width="83" height="85" rx="3" fill="#3a3aa0"/><use href="#sA" class="w"/><use href="#sA" class="d"/></g>
<g id="n_L2_64" transform="translate(3498,1316.8)"><rect class="b" x="-41.5" y="-42.5" width="83" height="85" rx="3" fill="#2a7ad0"/><use href="#sA" class="w"/><use href="#sA" class="d"/></g>
<g id="n_L2_66" transform="translate(3581.5,1316.8)"><rect class="b" x="-41.5" y="-42.5" width="83" height="85" rx="3" fill="#b020c8"/><use href="#sA" class="w"/><use href="#sA" class="d"/></g>
<g id="n_L1_m10" transform="translate(410,1473.2)"><rect class="b" x="-41.5" y="-42.5" width="83" height="85" rx="3" fill="#1a9ac8"/><use href="#sA" class="w"/><use href="#sA" class="d"/></g>
<g id="n_L1_m8" transform="translate(493.5,1473.2)"><rect class="b" x="-41.5" y="-42.5" width="83" height="85" rx="3" fill="#2a68c8"/><use href="#sA" class="w"/><use href="#sA" class="d"/></g>
<g id="n_L1_12" transform="translate(1328.1,1473.2)"><rect class="b" x="-41.5" y="-42.5" width="83" height="85" rx="3" fill="#5a45c8"/><use href="#sA" class="w"/><use href="#sA" class="d"/></g>
<g id="n_L1_46" transform="translate(2746.9,1473.2)"><rect class="b" x="-41.5" y="-42.5" width="83" height="85" rx="3" fill="#3a4ab8"/><use href="#sA" class="w"/><use href="#sA" class="d"/></g>
<g id="n_L1_64" transform="translate(3498,1473.2)"><rect class="b" x="-41.5" y="-42.5" width="83" height="85" rx="3" fill="#2a80d0"/><use href="#sA" class="w"/><use href="#sA" class="d"/></g>
<g id="n_L1_68" transform="translate(3665,1473.2)"><rect class="b" x="-41.5" y="-42.5" width="83" height="85" rx="3" fill="#2a3a98"/><use href="#sA" class="w"/><use href="#sA" class="d"/></g>
<g id="n_J0614p2229" transform="translate(2037.5,1629.5)"><rect class="b" x="-41.5" y="-42.5" width="83" height="85" rx="3" fill="#2a8ce0"/><text class="l" x="-37.5" y="-36">J0614+2229</text><text class="r" x="38.5" y="-36">B0611+22</text><use href="#sA" class="w"/><use href="#sA" class="d"/></g>
</g>
</svg>
